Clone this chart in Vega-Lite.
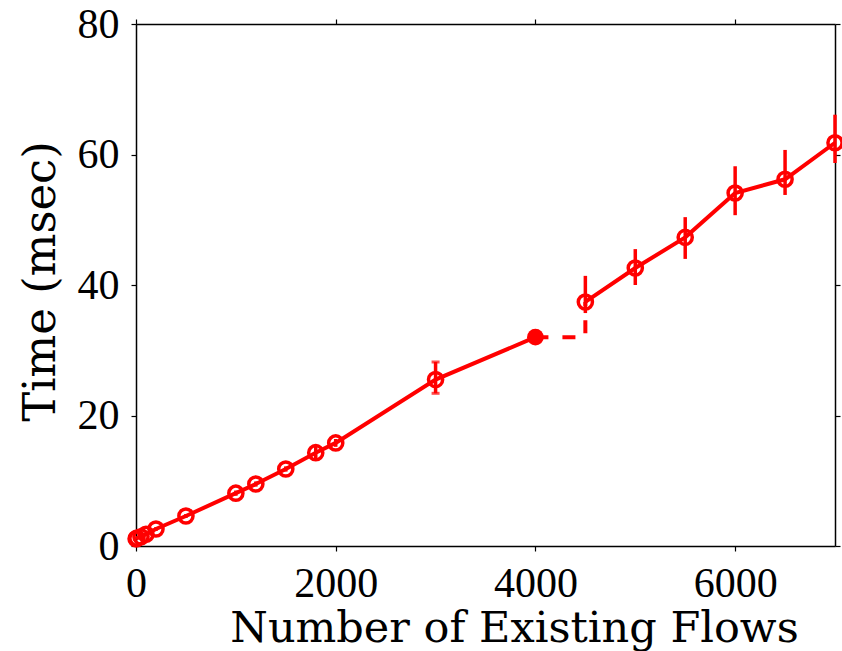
{
  "$schema": "https://vega.github.io/schema/vega-lite/v6.json",
  "width": 699,
  "height": 522,
  "autosize": "none",
  "padding": {"left": 136, "top": 24, "right": 7, "bottom": 105},
  "background": "white",
  "config": {
    "view": {"stroke": null},
    "axis": {
      "domainColor": "black",
      "domainWidth": 1.5,
      "tickColor": "black",
      "tickWidth": 1.2,
      "tickSize": 5,
      "grid": false,
      "labelFont": "Liberation Serif",
      "labelFontSize": 42,
      "labelColor": "black",
      "labelFlush": false,
      "titleFont": "DejaVu Serif",
      "titleFontWeight": "normal",
      "titleColor": "black"
    }
  },
  "datasets": {
    "main": [
      {"x": 1, "y": 1.1, "lo": 1.0, "hi": 1.2, "seg": "A"},
      {"x": 10, "y": 1.2, "lo": 1.1, "hi": 1.3, "seg": "A"},
      {"x": 50, "y": 1.4, "lo": 1.3, "hi": 1.5, "seg": "A"},
      {"x": 100, "y": 1.8, "lo": 1.6, "hi": 2.0, "seg": "A"},
      {"x": 200, "y": 2.6, "lo": 2.3, "hi": 2.9, "seg": "A"},
      {"x": 500, "y": 4.6, "lo": 4.3, "hi": 4.9, "seg": "A"},
      {"x": 1000, "y": 8.1, "lo": 7.7, "hi": 8.5, "seg": "A"},
      {"x": 1200, "y": 9.5, "lo": 9.1, "hi": 9.9, "seg": "A"},
      {"x": 1500, "y": 11.8, "lo": 11.4, "hi": 12.2, "seg": "A"},
      {"x": 1800, "y": 14.3, "lo": 13.3, "hi": 15.4, "seg": "A"},
      {"x": 2000, "y": 15.8, "lo": 15.2, "hi": 16.4, "seg": "A"},
      {"x": 3000, "y": 25.5, "lo": 23.4, "hi": 28.2, "seg": "A"},
      {"x": 4000, "y": 32.0, "lo": 31.8, "hi": 32.2, "seg": "A"},
      {"x": 4500, "y": 37.4, "lo": 35.7, "hi": 41.4, "seg": "B"},
      {"x": 5000, "y": 42.6, "lo": 40.0, "hi": 45.5, "seg": "B"},
      {"x": 5500, "y": 47.3, "lo": 44.0, "hi": 50.4, "seg": "B"},
      {"x": 6000, "y": 54.1, "lo": 50.7, "hi": 58.2, "seg": "B"},
      {"x": 6500, "y": 56.2, "lo": 53.8, "hi": 60.7, "seg": "B"},
      {"x": 7000, "y": 61.8, "lo": 58.7, "hi": 66.1, "seg": "B"}
    ],
    "gap": [
      {"x": 4000, "y": 32.0},
      {"x": 4500, "y": 32.0},
      {"x": 4500, "y": 37.4}
    ]
  },
  "resolve": {"axis": {"x": "independent", "y": "independent"}},
  "layer": [
    {
      "data": {"name": "main"},
      "mark": {"type": "line", "color": "#ff0000", "strokeWidth": 4, "clip": false},
      "encoding": {
        "x": {
          "field": "x", "type": "quantitative",
          "scale": {"domain": [0, 7000], "nice": false, "zero": false},
          "axis": {
            "orient": "bottom",
            "values": [0, 2000, 4000, 6000],
            "format": "d",
            "labelPadding": 12,
            "title": "Number of Existing Flows",
            "titleFontSize": 43,
            "titleAlign": "center",
            "titleAnchor": null,
            "titleBaseline": "alphabetic",
            "titleX": 378,
            "titleY": 95
          }
        },
        "y": {
          "field": "y", "type": "quantitative",
          "scale": {"domain": [0, 80], "nice": false},
          "axis": {
            "orient": "left",
            "values": [0, 20, 40, 60, 80],
            "format": "d",
            "labelPadding": 12,
            "title": "Time (msec)",
            "titleFontSize": 45,
            "titleAngle": 270,
            "titleAlign": "center",
            "titleBaseline": "alphabetic",
            "titleX": -82,
            "titleY": 257
          }
        },
        "detail": {"field": "seg"}
      }
    },
    {
      "data": {"name": "gap"},
      "mark": {"type": "line", "color": "#ff0000", "strokeWidth": 4, "strokeDash": [13, 14], "strokeCap": "butt"},
      "encoding": {
        "x": {
          "field": "x", "type": "quantitative",
          "axis": {"orient": "top", "values": [0, 2000, 4000, 6000], "labels": false, "title": null}
        },
        "y": {
          "field": "y", "type": "quantitative",
          "axis": {"orient": "right", "values": [0, 20, 40, 60, 80], "labels": false, "title": null}
        }
      }
    },
    {
      "data": {"name": "main"},
      "mark": {"type": "rule", "color": "#ff0000", "strokeWidth": 3.5},
      "encoding": {
        "x": {"field": "x", "type": "quantitative", "axis": null},
        "y": {"field": "lo", "type": "quantitative", "axis": null},
        "y2": {"field": "hi"}
      }
    },
    {
      "data": {"name": "main"},
      "transform": [{"filter": "datum.x == 3000"}],
      "layer": [
        {
          "mark": {"type": "tick", "color": "#ff0000", "orient": "horizontal", "size": 8, "thickness": 3},
          "encoding": {
            "x": {"field": "x", "type": "quantitative", "axis": null},
            "y": {"field": "lo", "type": "quantitative", "axis": null}
          }
        },
        {
          "mark": {"type": "tick", "color": "#ff0000", "orient": "horizontal", "size": 8, "thickness": 3},
          "encoding": {
            "x": {"field": "x", "type": "quantitative", "axis": null},
            "y": {"field": "hi", "type": "quantitative", "axis": null}
          }
        }
      ]
    },
    {
      "data": {"name": "main"},
      "transform": [{"filter": "datum.x != 4000"}],
      "mark": {"type": "point", "shape": "circle", "filled": false, "color": "#ff0000", "strokeWidth": 3.5, "size": 200, "opacity": 1},
      "encoding": {
        "x": {"field": "x", "type": "quantitative", "axis": null},
        "y": {"field": "y", "type": "quantitative", "axis": null}
      }
    },
    {
      "data": {"name": "main"},
      "transform": [{"filter": "datum.x == 4000"}],
      "mark": {"type": "point", "shape": "circle", "filled": true, "color": "#ff0000", "size": 280, "opacity": 1},
      "encoding": {
        "x": {"field": "x", "type": "quantitative", "axis": null},
        "y": {"field": "y", "type": "quantitative", "axis": null}
      }
    }
  ]
}
